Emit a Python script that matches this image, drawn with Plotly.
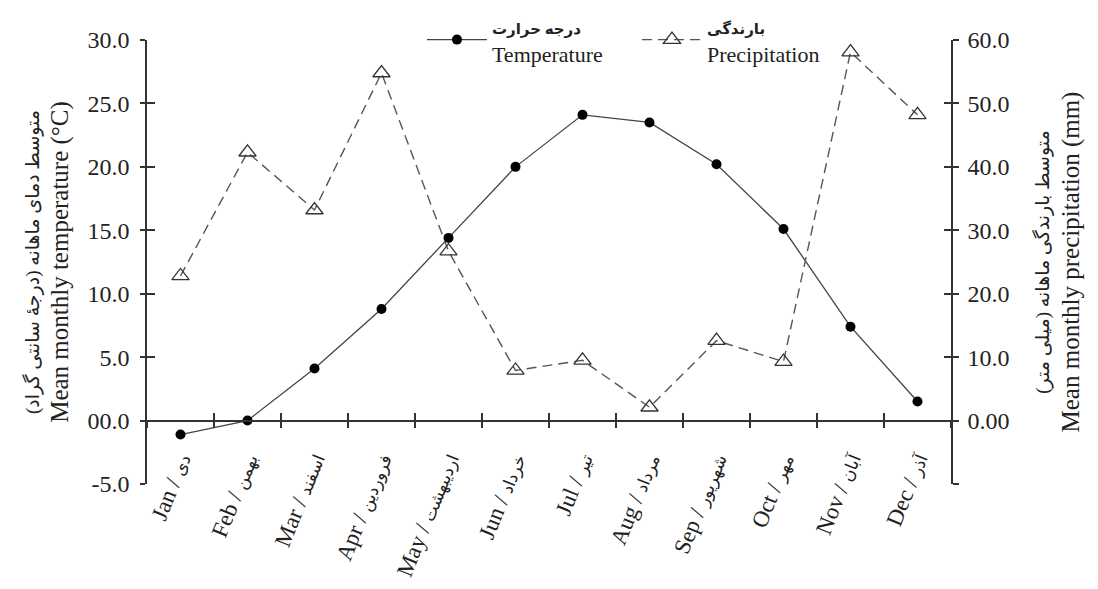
import plotly.graph_objects as go

months_en = ["Jan", "Feb", "Mar", "Apr", "May", "Jun", "Jul", "Aug", "Sep", "Oct", "Nov", "Dec"]
months_fa = ["دی", "بهمن", "اسفند", "فروردین", "اردیبهشت", "خرداد", "تیر", "مرداد", "شهریور", "مهر", "آبان", "آذر"]
temperature = [-1.1, 0.0, 4.1, 8.8, 14.4, 20.0, 24.1, 23.5, 20.2, 15.1, 7.4, 1.5]
precipitation = [22.8, 42.3, 33.2, 54.8, 26.7, 7.9, 9.5, 2.1, 12.6, 9.3, 58.1, 48.2]

temp_ticks = [-5, 0, 5, 10, 15, 20, 25, 30]
temp_ticktext = ["-5.0", "00.0", "5.0", "10.0", "15.0", "20.0", "25.0", "30.0"]
prec_ticks = [-10, 0, 10, 20, 30, 40, 50, 60]
prec_ticktext = ["", "0.00", "10.0", "20.0", "30.0", "40.0", "50.0", "60.0"]

FONT = "Liberation Serif, DejaVu Sans, serif"
AX = "#333333"
TXT = "#222222"
RLM = "\u200f"

xlabels = [f"{e} / <span style='font-size:17px'>{f}</span>" for e, f in zip(months_en, months_fa)]

fig = go.Figure()
fig.add_trace(go.Scatter(
    x=months_en, y=temperature, yaxis="y", xaxis="x",
    mode="lines+markers",
    name="<span style='font-size:15px'><b>درجه حرارت</b></span><br>Temperature",
    line=dict(color="#444444", width=1.3),
    marker=dict(symbol="circle", size=10, color="black"),
))
fig.add_trace(go.Scatter(
    x=months_en, y=precipitation, yaxis="y2", xaxis="x",
    mode="lines+markers",
    name="<span style='font-size:15px'><b>بارندگی</b></span><br>Precipitation",
    line=dict(color="#555555", width=1.4, dash="10px,6px"),
    marker=dict(symbol="triangle-up-open", size=15, color="#333333", line=dict(width=1.3)),
))

y0pos = 5 / 35

fig.update_layout(
    width=1098, height=589,
    margin=dict(l=139, r=155, t=32, b=113, autoexpand=False),
    plot_bgcolor="white", paper_bgcolor="white",
    font=dict(family=FONT, size=22, color=TXT),
    showlegend=True,
    legend=dict(
        orientation="h", x=0.342, y=1.0, xanchor="left", yanchor="middle",
        bgcolor="rgba(255,255,255,0)", font=dict(family=FONT, size=22, color=TXT),
        itemwidth=60, entrywidth=140, valign="middle", traceorder="normal",
    ),
    xaxis=dict(
        type="category", categoryorder="array", categoryarray=months_en,
        range=[-0.5, 11.5], anchor="free", position=y0pos, automargin=False,
        tickmode="array", tickvals=months_en, ticktext=xlabels,
        tickson="boundaries", ticks="outside", ticklen=7, tickwidth=1.5, tickcolor=AX,
        showline=True, linecolor=AX, linewidth=1.5, showgrid=False, zeroline=False,
        tickangle=-68, tickfont=dict(family=FONT, size=23, color=TXT),
        ticklabelstandoff=16,
    ),
    xaxis2=dict(
        type="category", categoryorder="array", categoryarray=months_en,
        range=[-0.5, 11.5], anchor="free", position=y0pos, overlaying="x", automargin=False,
        tickmode="array", tickvals=months_en, ticktext=["" for _ in months_en],
        tickson="boundaries", ticks="inside", ticklen=8, tickwidth=1.5, tickcolor=AX,
        showline=False, showgrid=False, zeroline=False, showticklabels=False,
    ),
    yaxis=dict(
        range=[-5, 30], tickmode="array", tickvals=temp_ticks, ticktext=temp_ticktext,
        ticks="outside", ticklen=5, tickwidth=1.5, tickcolor=AX, automargin=False,
        showline=True, linecolor=AX, linewidth=1.5, showgrid=False, zeroline=False,
        tickfont=dict(family=FONT, size=24, color=TXT), ticklabelstandoff=6,
        title=dict(
            text="<span style='font-size:19px'>متوسط دمای ماهانه (درجهٔ سانتی گراد)" + RLM + "</span><br><span style='font-size:25px'>Mean monthly temperature (°C)</span>",
            font=dict(family=FONT, size=23, color=TXT), standoff=12,
        ),
    ),
    yaxis3=dict(
        range=[-5, 30], overlaying="y", side="left", anchor="x", automargin=False,
        tickmode="array", tickvals=temp_ticks, ticks="inside", ticklen=8, tickwidth=1.5, tickcolor=AX,
        showline=False, showgrid=False, zeroline=False, showticklabels=False,
    ),
    yaxis2=dict(
        range=[-10, 60], overlaying="y", side="right", anchor="x", automargin=False,
        tickmode="array", tickvals=prec_ticks, ticktext=prec_ticktext,
        ticks="outside", ticklen=6, tickwidth=1.5, tickcolor=AX,
        showline=True, linecolor=AX, linewidth=1.5, showgrid=False, zeroline=False,
        tickfont=dict(family=FONT, size=24, color=TXT), ticklabelstandoff=4,
        title=dict(
            text="<span style='font-size:19px'>متوسط بارندگی ماهانه (میلی متر)" + RLM + "</span><br><span style='font-size:25px'>Mean monthly precipitation (mm)</span>",
            font=dict(family=FONT, size=23, color=TXT), standoff=24,
        ),
    ),
    yaxis4=dict(
        range=[-10, 60], overlaying="y", side="right", anchor="x", automargin=False,
        tickmode="array", tickvals=prec_ticks, ticks="inside", ticklen=7, tickwidth=1.5, tickcolor=AX,
        showline=False, showgrid=False, zeroline=False, showticklabels=False,
    ),
)

# invisible helper traces so the overlay tick axes render
fig.add_trace(go.Scatter(x=months_en, y=temperature, xaxis="x2", yaxis="y3", mode="markers",
                         marker=dict(opacity=0), showlegend=False, hoverinfo="skip"))
fig.add_trace(go.Scatter(x=months_en, y=precipitation, xaxis="x2", yaxis="y4", mode="markers",
                         marker=dict(opacity=0), showlegend=False, hoverinfo="skip"))

fig.write_html("out.html")
